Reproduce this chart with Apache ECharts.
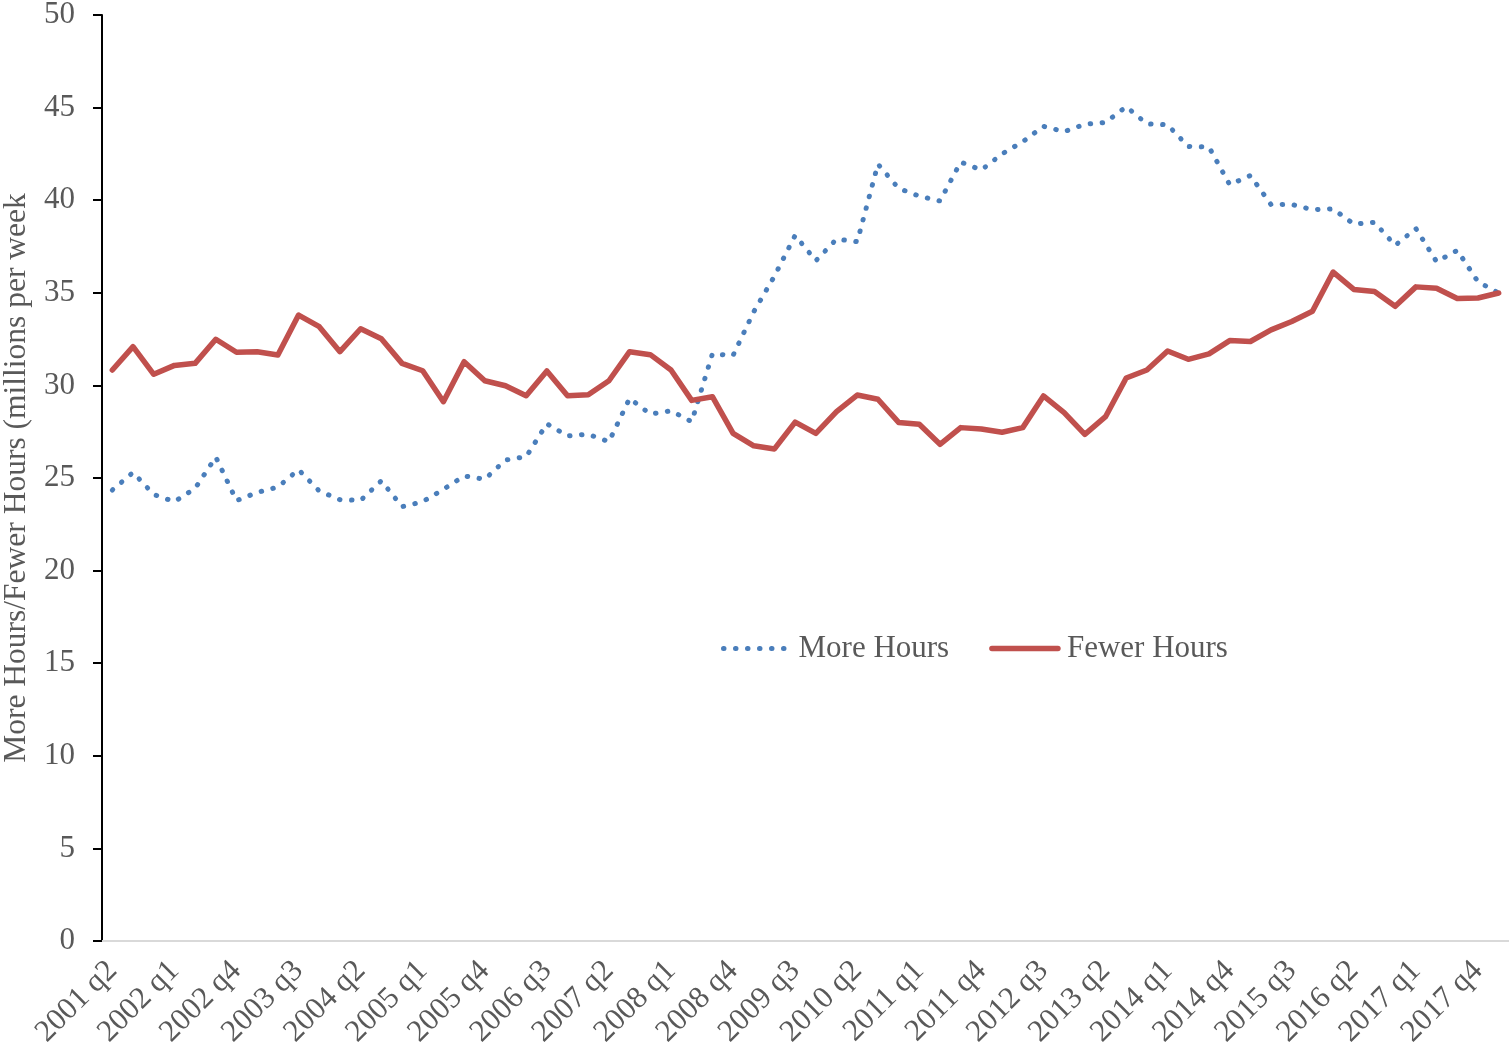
<!DOCTYPE html>
<html>
<head>
<meta charset="utf-8">
<script src="https://cdn.jsdelivr.net/npm/echarts@6/dist/echarts.min.js"></script>
<style>
html, body { margin: 0; padding: 0; background: #fff; }
#chart { width: 1509px; height: 1062px; }
</style>
</head>
<body>
<div id="chart"></div>
<script>
var quarters = [
	'2001 q2', '2001 q3', '2001 q4', '2002 q1', '2002 q2', '2002 q3', '2002 q4',
	'2003 q1', '2003 q2', '2003 q3', '2003 q4', '2004 q1', '2004 q2', '2004 q3', '2004 q4',
	'2005 q1', '2005 q2', '2005 q3', '2005 q4', '2006 q1', '2006 q2', '2006 q3', '2006 q4',
	'2007 q1', '2007 q2', '2007 q3', '2007 q4', '2008 q1', '2008 q2', '2008 q3', '2008 q4',
	'2009 q1', '2009 q2', '2009 q3', '2009 q4', '2010 q1', '2010 q2', '2010 q3', '2010 q4',
	'2011 q1', '2011 q2', '2011 q3', '2011 q4', '2012 q1', '2012 q2', '2012 q3', '2012 q4',
	'2013 q1', '2013 q2', '2013 q3', '2013 q4', '2014 q1', '2014 q2', '2014 q3', '2014 q4',
	'2015 q1', '2015 q2', '2015 q3', '2015 q4', '2016 q1', '2016 q2', '2016 q3', '2016 q4',
	'2017 q1', '2017 q2', '2017 q3', '2017 q4', '2018 q1'
];

// millions per week
var moreHours = [
	24.35, 25.3, 24.11, 23.72, 24.44, 26.13, 23.78, 24.22, 24.51, 25.45,
	24.3, 23.83, 23.79, 24.85, 23.45, 23.72, 24.39, 25.11, 24.93, 25.97,
	26.15, 27.93, 27.27, 27.36, 26.96, 29.3, 28.45, 28.63, 28.04, 31.7,
	31.62, 33.98, 35.9, 38.1, 36.73, 37.9, 37.76, 41.95, 40.64, 40.22,
	39.96, 42.06, 41.63, 42.5, 43.16, 43.99, 43.7, 44.1, 44.2, 45.05,
	44.12, 44.07, 42.9, 42.87, 40.84, 41.33, 39.76, 39.77, 39.49, 39.53,
	38.71, 38.8, 37.56, 38.47, 36.68, 37.29, 35.6, 34.99
];

var fewerHours = [
	30.83, 32.09, 30.6, 31.08, 31.19, 32.49, 31.79, 31.82, 31.64, 33.8,
	33.17, 31.82, 33.06, 32.52, 31.19, 30.79, 29.12, 31.28, 30.25, 29.98,
	29.44, 30.78, 29.44, 29.5, 30.25, 31.82, 31.66, 30.83, 29.19, 29.39,
	27.41, 26.74, 26.57, 28.02, 27.41, 28.58, 29.48, 29.25, 28.0, 27.9,
	26.82, 27.72, 27.65, 27.47, 27.72, 29.43, 28.53, 27.36, 28.31, 30.4,
	30.83, 31.86, 31.41, 31.7, 32.42, 32.37, 33.0, 33.45, 34.0, 36.12,
	35.18, 35.07, 34.27, 35.32, 35.25, 34.69, 34.72, 34.99
];

var yTicks = { min: 0, max: 50, interval: 5 };

var textFont = "'Liberation Serif', 'Times New Roman', serif";
var textColor = '#595959';
var blue = '#4a7ebb';
var red = '#c0504d';

var dotted = { color: blue, width: 5, type: [0.5, 11.5], cap: 'round' };
var solid = { color: red, width: 5.5, cap: 'round', join: 'round' };

var myChart = echarts.init(document.getElementById('chart'));

var option = {
	animation: false,
	grid: {
		left: 102,
		right: 0,
		top: 15,
		bottom: 121,
		containLabel: false,
		outerBoundsMode: 'none'
	},
	legend: {
		left: 716,
		top: 628,
		itemWidth: 66,
		itemHeight: 14,
		itemGap: 40,
		itemStyle: { opacity: 0 },
		textStyle: {
			fontFamily: textFont,
			fontSize: 31,
			color: textColor,
			padding: [0, 0, 0, 4]
		},
		data: [
			{ name: 'More Hours', lineStyle: dotted },
			{ name: 'Fewer Hours', lineStyle: solid }
		]
	},
	xAxis: {
		type: 'category',
		boundaryGap: true,
		data: quarters,
		axisLine: {
			show: true,
			lineStyle: { color: '#d9d9d9', width: 2 }
		},
		axisTick: { show: false },
		axisLabel: {
			interval: 2,
			rotate: 45,
			margin: 25,
			fontFamily: textFont,
			fontSize: 31,
			color: textColor
		},
		splitLine: { show: false }
	},
	yAxis: {
		type: 'value',
		min: yTicks.min,
		max: yTicks.max,
		interval: yTicks.interval,
		name: 'More Hours/Fewer Hours (millions per week',
		nameLocation: 'middle',
		nameRotate: 90,
		nameGap: 68,
		nameTextStyle: {
			fontFamily: textFont,
			fontSize: 31.5,
			color: textColor
		},
		axisLine: {
			show: true,
			lineStyle: { color: '#000', width: 2 }
		},
		axisTick: {
			show: true,
			inside: false,
			length: 9,
			lineStyle: { color: '#000', width: 2 }
		},
		axisLabel: {
			margin: 27,
			fontFamily: textFont,
			fontSize: 31,
			color: textColor
		},
		splitLine: { show: false }
	},
	series: [{
		name: 'More Hours',
		type: 'line',
		data: moreHours,
		showSymbol: false,
		symbol: 'none',
		color: blue,
		lineStyle: dotted
	}, {
		name: 'Fewer Hours',
		type: 'line',
		data: fewerHours,
		showSymbol: false,
		symbol: 'none',
		color: red,
		lineStyle: solid
	}]
};

myChart.setOption(option);
</script>
</body>
</html>
